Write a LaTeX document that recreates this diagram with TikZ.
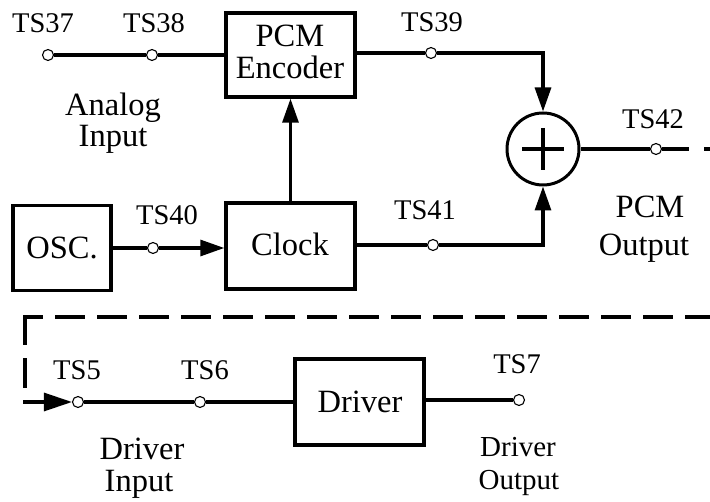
\documentclass[tikz,border=0pt]{standalone}
\usepackage{fontspec}
\setmainfont{Liberation Serif}
\usetikzlibrary{arrows.meta}
\begin{document}
\begin{tikzpicture}[x=1pt,y=-1pt,
  blk/.style={draw,line width=3.4pt,inner sep=0pt},
  term/.style={circle,draw,fill=white,line width=1.1pt,minimum size=11pt,inner sep=0pt},
  lbl/.style={anchor=base,font=\fontsize{28.5}{32}\selectfont,inner sep=0pt},
  txt/.style={anchor=base,font=\fontsize{32.5}{36}\selectfont,inner sep=0pt},
  stxt/.style={anchor=base,font=\fontsize{29}{33}\selectfont,inner sep=0pt},
  wire/.style={line width=3.1pt},
  arr/.style={wire,-{Triangle[length=24pt,width=16pt]}},
  dashwire/.style={wire,dash pattern=on 30pt off 12pt},
]
\useasboundingbox (0,0) rectangle (710,502);
% blocks
\node[blk,minimum width=129pt,minimum height=84pt] (enc) at (290.5,55) {};
\node[blk,minimum width=98pt,minimum height=85pt] (osc) at (62,248) {};
\node[blk,minimum width=129pt,minimum height=86pt] (clk) at (290.5,246) {};
\node[blk,minimum width=129pt,minimum height=86pt] (drv) at (359.5,402) {};
\node[circle,draw,line width=3pt,minimum size=72pt,inner sep=0pt] (sum) at (543,149) {};
\draw[wire] (522,149) -- (564,149) (543,128) -- (543,170);
% block texts
\node[txt] (encA) at (290,47) {PCM};
\node[txt] (encB) at (290,79) {Encoder};
\node[txt] (oscT) at (62,259) {OSC.};
\node[txt] (clkT) at (290,256) {Clock};
\node[txt] (drvT) at (360,413) {Driver};
% terminals
\node[term] (t37) at (48,55) {};
\node[term] (t38) at (152,55) {};
\node[term] (t39) at (431,53) {};
\node[term] (t40) at (153,248) {};
\node[term] (t41) at (433,245) {};
\node[term] (t42) at (656,149) {};
\node[term] (t5) at (78,402) {};
\node[term] (t6) at (200,402) {};
\node[term] (t7) at (519,400) {};
% terminal labels
\node[lbl] (l37) at (43,33) {TS37};
\node[lbl] (l38) at (154,33) {TS38};
\node[lbl] (l39) at (432,32) {TS39};
\node[lbl] (l40) at (167,225) {TS40};
\node[lbl] (l41) at (425,220) {TS41};
\node[lbl] (l42) at (653,129) {TS42};
\node[lbl] (l5) at (77,380) {TS5};
\node[lbl] (l6) at (205,380) {TS6};
\node[lbl] (l7) at (517,374) {TS7};
% descriptive texts
\node[txt] (anA) at (113,116) {Analog};
\node[txt] (anB) at (113,147) {Input};
\node[txt] (poA) at (650,218) {PCM};
\node[txt] (poB) at (644,256) {Output};
\node[txt] (diA) at (142,460) {Driver};
\node[txt] (diB) at (139,492) {Input};
\node[stxt] (doA) at (518,457) {Driver};
\node[stxt] (doB) at (519,490) {Output};
% connectors
\draw[wire] (t37) -- (t38);
\draw[wire] (t38) -- (enc);
\draw[wire] (enc.east |- t39) -- (t39);
\draw[arr] (t39) -- (t39 -| sum) -- (sum);
\draw[arr] (clk) -- (enc);
\draw[wire] (osc) -- (t40);
\draw[arr] (t40) -- (clk.west |- t40);
\draw[wire] (clk.east |- t41) -- (t41);
\draw[arr] (t41) -- (t41 -| sum) -- (sum);
\draw[wire] (sum) -- (t42);
\coordinate (e1) at (712,149);
\draw[wire,dash pattern=on 27pt off 15pt] (t42) -- (e1);
\coordinate (d0) at (712,317);
\coordinate (d1) at (25,317);
\coordinate (d2) at (25,390);
\draw[wire,dash pattern=on 30pt off 13pt] ([yshift=1.55pt]d1) -- (d2);
\draw[dashwire,dash phase=12pt] (d1) -- (d0);
\coordinate (d3) at (23,402);
\draw[wire,-{Triangle[length=28pt,width=18pt]}] (d3) -- (t5);
\draw[wire] (t5) -- (t6);
\draw[wire] (t6) -- (drv);
\draw[wire] (drv.east |- t7) -- (t7);
\end{tikzpicture}
\end{document}
